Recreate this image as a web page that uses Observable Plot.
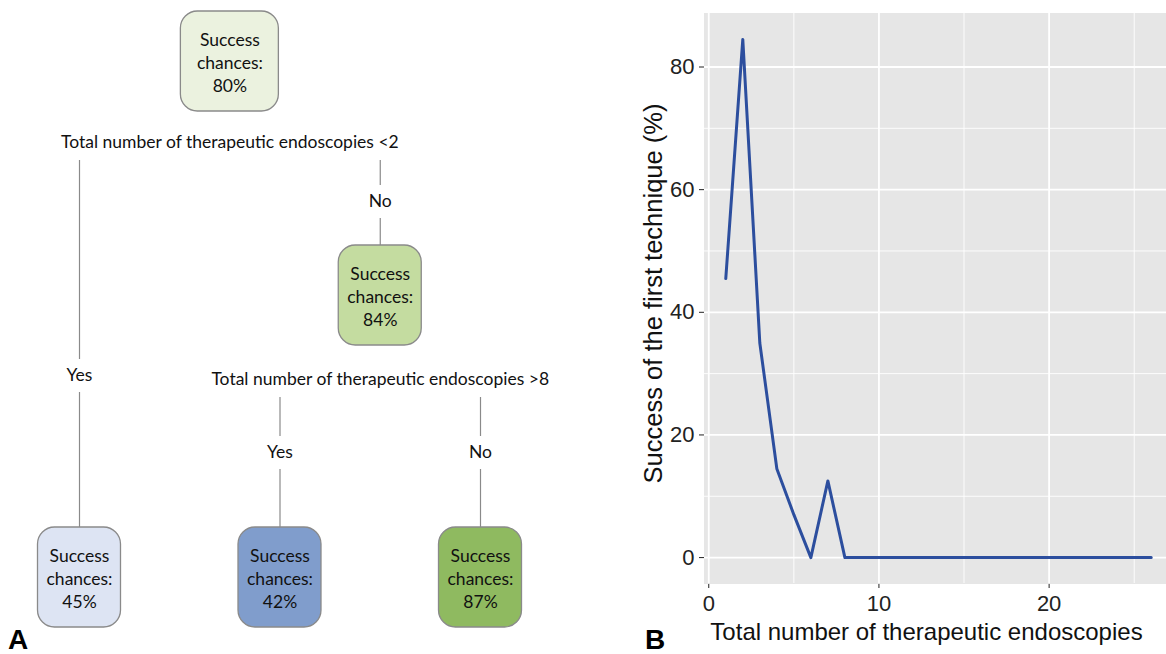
<!DOCTYPE html>
<html><head><meta charset="utf-8">
<script src="https://cdn.jsdelivr.net/npm/d3@7"></script>
<script src="https://cdn.jsdelivr.net/npm/@observablehq/plot@0.6"></script>
<style>
html,body{margin:0;padding:0;background:#fff;}
#fig{position:relative;width:1166px;height:654px;overflow:hidden;background:#fff;}
#panelA{position:absolute;left:0;top:0;width:640px;height:654px;}
#panelB{position:absolute;left:640px;top:0;width:532px;height:654px;}
#fig svg{max-width:none !important;overflow:visible !important;}
.tag{position:absolute;font-family:"Liberation Sans",Arial,sans-serif;font-weight:bold;font-size:28px;line-height:1;color:#000;}
</style></head><body>
<div id="fig">
  <div id="panelA"></div>
  <div id="panelB"></div>
  <div class="tag" style="left:8px;top:626px">A</div>
  <div class="tag" style="left:645px;top:626px">B</div>
</div>
<script>
// ---------- Panel A: decision tree data ----------
const nodeIds      = ["root", "l45", "n84", "l42", "l87"];
const nodeParents  = [null, "root", "root", "n84", "n84"];
const nodeSuccess  = [80, 45, 84, 42, 87];
const edgeLabels   = [null, "Yes", "No", "Yes", "No"];
const splitLabels  = ["Total number of therapeutic endoscopies <2", null,
                      "Total number of therapeutic endoscopies >8", null, null];

// ---------- Panel B: line chart data ----------
const endoscopies = [1, 2, 3, 4, 5, 6, 7, 8, 9, 10, 11, 12, 13, 14, 15, 16, 17, 18, 19, 20, 21, 22, 23, 24, 25, 26];
const firstTechniqueSuccess = [45.5, 84.5, 35, 14.5, 7, 0, 12.5, 0, 0, 0, 0, 0, 0, 0, 0, 0, 0, 0, 0, 0, 0, 0, 0, 0, 0, 0];
const xTicks = [0, 10, 20];
const xMinorTicks = [5, 15, 25];
const yTicks = [0, 20, 40, 60, 80];
const yMinorTicks = [10, 30, 50, 70];
const xTitle = "Total number of therapeutic endoscopies";
const yTitle = "Success of the first technique (%)";

// ---------- styles ----------
const nodeFill = {root: "#ebf2df", l45: "#dde4f3", n84: "#c4dca0", l42: "#809dcc", l87: "#8fba60"};
const treeGray = "#8a8a8a";
const treeFont = "Lato, 'Open Sans', sans-serif";
const treeFontSize = 17.5;

// ---------- tree layout ----------
const table = nodeIds.map((id, i) => ({id, parent: nodeParents[i], success: nodeSuccess[i], edge: edgeLabels[i], split: splitLabels[i]}));
const root = d3.stratify().id(d => d.id).parentId(d => d.parent)(table);
d3.cluster().nodeSize([1, 1]).separation(() => 1)(root);
// vertical rows: box / split text / edge label per level
const rowPx = [61, 142, 201, 295, 379, 452, 577];
const rowY = d3.scaleLinear().domain(rowPx.map((_, i) => i)).range(rowPx);
const nodes = root.descendants().map(n => ({...n.data, x: n.x, level: n.y, y: rowY(n.y * 3), splitY: rowY(n.y * 3 + 1)}));
const edges = root.links().map(l => {
  const pr = l.source.y * 3, cr = l.target.y * 3;
  const long = l.target.y - l.source.y !== 1;
  return {
    x: l.target.x,
    label: l.target.data.edge,
    splitY: rowY(pr + 1),
    labelY: rowY(long ? pr + 4 : pr + 2) - (long ? 4 : 0),
    childY: rowY(cr)
  };
});
const leafX = root.leaves().map(n => n.x);

const tree = Plot.plot({
  width: 640, height: 654, margin: 0,
  x: {domain: d3.extent(leafX), range: [79, 480], axis: null},
  y: {domain: [0, 654], range: [0, 654], axis: null},
  style: {fontFamily: treeFont, fontSize: treeFontSize + "px", background: "transparent", color: "#111"},
  marks: [
    Plot.ruleX(edges, {x: "x", y1: "splitY", y2: "labelY", insetTop: 18, insetBottom: 16, stroke: treeGray, strokeWidth: 1.2}),
    Plot.ruleX(edges, {x: "x", y1: "labelY", y2: "childY", insetTop: 17, insetBottom: 50, stroke: treeGray, strokeWidth: 1.2}),
    Plot.rect(nodes.filter(d => d.level === 0), {x1: "x", x2: "x", y1: "y", y2: "y",
      insetLeft: -49, insetRight: -49, insetTop: -50, insetBottom: -50, rx: 17,
      fill: d => nodeFill[d.id], stroke: treeGray, strokeWidth: 1.3}),
    Plot.rect(nodes.filter(d => d.level !== 0), {x1: "x", x2: "x", y1: "y", y2: "y",
      insetLeft: -41.5, insetRight: -41.5, insetTop: -50, insetBottom: -50, rx: 17,
      fill: d => nodeFill[d.id], stroke: treeGray, strokeWidth: 1.3}),
    Plot.text(nodes, {x: "x", y: "y", text: d => `Success\nchances:\n${d.success}%`,
      lineHeight: 1.34, fontSize: treeFontSize, fill: "#111", textAnchor: "middle", lineAnchor: "middle"}),
    Plot.text(nodes.filter(d => d.split), {x: "x", y: "splitY", text: "split",
      fontSize: treeFontSize, fill: "#111", lineAnchor: "middle"}),
    Plot.text(edges, {x: "x", y: "labelY", text: "label", fontSize: treeFontSize, fill: "#111", lineAnchor: "middle"})
  ]
});
document.getElementById("panelA").appendChild(tree);

// ---------- Panel B ----------
const series = endoscopies.map((n, i) => ({n, s: firstTechniqueSuccess[i]}));
const chart = Plot.plot({
  width: 532, height: 654,
  marginLeft: 64, marginRight: 0, marginTop: 13, marginBottom: 71,
  style: {fontFamily: "'Liberation Sans', Arial, Helvetica, sans-serif", fontSize: "22px", color: "#222", background: "transparent"},
  x: {domain: [-0.25, 27.25], ticks: xTicks, tickSize: 5, tickPadding: 7, label: null},
  y: {domain: [-4.225, 88.725], ticks: yTicks, tickSize: 5, tickPadding: 5, label: null},
  marks: [
    Plot.frame({fill: "#e6e6e6", stroke: "#e6e6e6"}),
    Plot.ruleX(xMinorTicks, {stroke: "#fff", strokeWidth: 0.9}),
    Plot.ruleY(yMinorTicks, {stroke: "#fff", strokeWidth: 0.9}),
    Plot.ruleX(xTicks, {stroke: "#fff", strokeWidth: 1.8}),
    Plot.ruleY(yTicks, {stroke: "#fff", strokeWidth: 1.8}),
    Plot.line(series, {x: "n", y: "s", stroke: "#2c4e9e", strokeWidth: 3}),
    Plot.text([xTitle], {text: d => d, frameAnchor: "bottom", dx: -12, dy: 49, fontSize: 24, fill: "#111", lineAnchor: "middle"}),
    Plot.text([yTitle], {text: d => d, frameAnchor: "left", rotate: -90, dx: -51, dy: -5, fontSize: 25.5, fill: "#111", textAnchor: "middle", lineAnchor: "middle"})
  ]
});
document.getElementById("panelB").appendChild(chart);
</script>
</body></html>
